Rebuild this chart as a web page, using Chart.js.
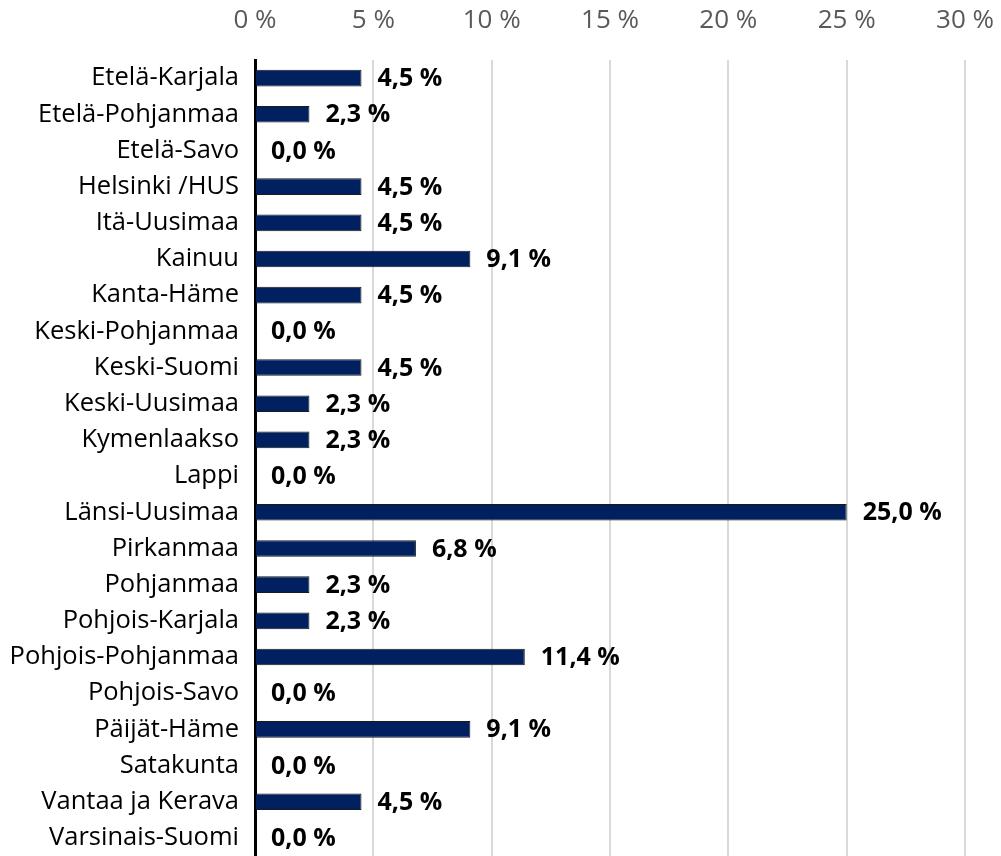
<!DOCTYPE html>
<html>
<head>
<meta charset="utf-8">
<script src="https://cdn.jsdelivr.net/npm/chart.js@4"></script>
<style>
  html, body { margin: 0; padding: 0; background: #fff; overflow: hidden; }
  #wrap { width: 1001px; height: 856px; position: relative; }
  canvas { display: block; }
</style>
</head>
<body>
<div id="wrap"><canvas id="chart"></canvas></div>
<script>
const regions = ['Etelä-Karjala', 'Etelä-Pohjanmaa', 'Etelä-Savo', 'Helsinki /HUS', 'Itä-Uusimaa', 'Kainuu',
  'Kanta-Häme', 'Keski-Pohjanmaa', 'Keski-Suomi', 'Keski-Uusimaa', 'Kymenlaakso', 'Lappi', 'Länsi-Uusimaa',
  'Pirkanmaa', 'Pohjanmaa', 'Pohjois-Karjala', 'Pohjois-Pohjanmaa', 'Pohjois-Savo', 'Päijät-Häme',
  'Satakunta', 'Vantaa ja Kerava', 'Varsinais-Suomi'];
const shares = [4.5, 2.3, 0.0, 4.5, 4.5, 9.1, 4.5, 0.0, 4.5, 2.3, 2.3, 0.0, 25.0, 6.8, 2.3, 2.3, 11.4, 0.0, 9.1, 0.0, 4.5, 0.0];
const xTicks = [0, 5, 10, 15, 20, 25, 30];

const FONT = "'Open Sans', 'Noto Sans', sans-serif";

// value labels right of each bar
const valueLabels = {
  id: 'valueLabels',
  afterDatasetsDraw(chart) {
    const ctx = chart.ctx;
    const meta = chart.getDatasetMeta(0);
    ctx.save();
    ctx.font = 'bold 25px ' + FONT;
    ctx.fillStyle = '#000';
    ctx.textAlign = 'left';
    ctx.textBaseline = 'middle';
    meta.data.forEach((bar, i) => {
      const txt = shares[i].toFixed(1).replace('.', ',') + ' %';
      ctx.fillText(txt, bar.x + 16, bar.y + 1);
    });
    ctx.restore();
  }
};

new Chart(document.getElementById('chart'), {
  type: 'bar',
  data: {
    labels: regions,
    datasets: [{
      data: shares,
      backgroundColor: '#002060',
      borderColor: '#1a1a1a',
      borderWidth: 1,
      categoryPercentage: 1,
      barPercentage: 0.46
    }]
  },
  options: {
    indexAxis: 'y',
    responsive: true,
    maintainAspectRatio: false,
    animation: false,
    layout: { padding: { left: 0, right: 36, top: 0, bottom: 0 } },
    plugins: {
      legend: { display: false },
      tooltip: { enabled: false }
    },
    scales: {
      x: {
        position: 'top',
        min: 0,
        max: 30,
        afterBuildTicks: (scale) => { scale.ticks = xTicks.map(v => ({ value: v })); },
        afterFit: (scale) => {
          scale.height = 60;
          scale.paddingLeft = 0;
          scale.paddingRight = 0;
        },
        border: { display: false },
        grid: { color: '#d9d9d9', lineWidth: 2, drawTicks: false },
        ticks: {
          color: '#595959',
          font: { family: FONT, size: 26 },
          padding: 24,
          callback: (v) => v + ' %'
        }
      },
      y: {
        afterFit: (scale) => {
          scale.width = 255;
          scale.paddingTop = 0;
          scale.paddingBottom = 0;
        },
        border: { display: true, color: '#000', width: 3 },
        grid: { display: false, drawTicks: false },
        ticks: {
          color: '#000',
          font: { family: FONT, size: 25.5 },
          padding: 16
        }
      }
    }
  },
  plugins: [valueLabels]
});
</script>
</body>
</html>
